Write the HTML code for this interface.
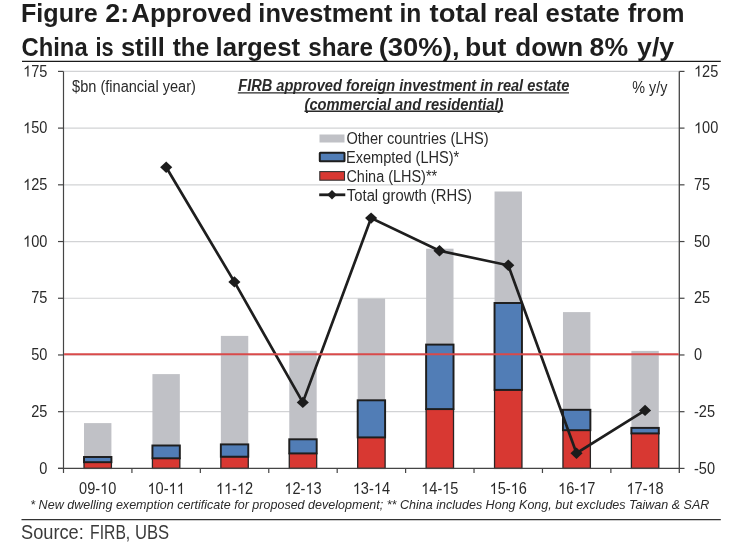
<!DOCTYPE html>
<html><head><meta charset="utf-8"><style>
html,body{margin:0;padding:0;background:#fff;width:742px;height:548px;overflow:hidden}
svg{display:block;will-change:transform}
text{font-family:"Liberation Sans",sans-serif}
</style></head><body>
<svg width="742" height="548" viewBox="0 0 742 548">
<line x1="63.5" y1="411.69" x2="679.3" y2="411.69" stroke="#D2D3D5" stroke-width="1.2"/>
<line x1="63.5" y1="354.97" x2="679.3" y2="354.97" stroke="#D2D3D5" stroke-width="1.2"/>
<line x1="63.5" y1="298.26" x2="679.3" y2="298.26" stroke="#D2D3D5" stroke-width="1.2"/>
<line x1="63.5" y1="241.54" x2="679.3" y2="241.54" stroke="#D2D3D5" stroke-width="1.2"/>
<line x1="63.5" y1="184.83" x2="679.3" y2="184.83" stroke="#D2D3D5" stroke-width="1.2"/>
<line x1="63.5" y1="128.11" x2="679.3" y2="128.11" stroke="#D2D3D5" stroke-width="1.2"/>
<line x1="63.5" y1="71.40" x2="679.3" y2="71.40" stroke="#D2D3D5" stroke-width="1.2"/>
<rect x="84.01" y="423.1" width="27.4" height="45.30" fill="#C0C1C6"/>
<rect x="152.43" y="374.1" width="27.4" height="94.30" fill="#C0C1C6"/>
<rect x="220.86" y="335.9" width="27.4" height="132.50" fill="#C0C1C6"/>
<rect x="289.28" y="350.8" width="27.4" height="117.60" fill="#C0C1C6"/>
<rect x="357.70" y="298.5" width="27.4" height="169.90" fill="#C0C1C6"/>
<rect x="426.12" y="248.7" width="27.4" height="219.70" fill="#C0C1C6"/>
<rect x="494.54" y="191.5" width="27.4" height="276.90" fill="#C0C1C6"/>
<rect x="562.97" y="312.1" width="27.4" height="156.30" fill="#C0C1C6"/>
<rect x="631.39" y="350.9" width="27.4" height="117.50" fill="#C0C1C6"/>
<rect x="84.01" y="462.20" width="27.4" height="6.20" fill="#D83832" stroke="#2A2424" stroke-width="1.3"/>
<rect x="84.01" y="457.00" width="27.4" height="5.20" fill="#517DB6" stroke="#1E1E1E" stroke-width="1.95"/>
<rect x="152.43" y="458.30" width="27.4" height="10.10" fill="#D83832" stroke="#2A2424" stroke-width="1.3"/>
<rect x="152.43" y="445.50" width="27.4" height="12.80" fill="#517DB6" stroke="#1E1E1E" stroke-width="1.95"/>
<rect x="220.86" y="456.70" width="27.4" height="11.70" fill="#D83832" stroke="#2A2424" stroke-width="1.3"/>
<rect x="220.86" y="444.40" width="27.4" height="12.30" fill="#517DB6" stroke="#1E1E1E" stroke-width="1.95"/>
<rect x="289.28" y="453.40" width="27.4" height="15.00" fill="#D83832" stroke="#2A2424" stroke-width="1.3"/>
<rect x="289.28" y="439.30" width="27.4" height="14.10" fill="#517DB6" stroke="#1E1E1E" stroke-width="1.95"/>
<rect x="357.70" y="437.40" width="27.4" height="31.00" fill="#D83832" stroke="#2A2424" stroke-width="1.3"/>
<rect x="357.70" y="400.30" width="27.4" height="37.10" fill="#517DB6" stroke="#1E1E1E" stroke-width="1.95"/>
<rect x="426.12" y="409.10" width="27.4" height="59.30" fill="#D83832" stroke="#2A2424" stroke-width="1.3"/>
<rect x="426.12" y="344.60" width="27.4" height="64.50" fill="#517DB6" stroke="#1E1E1E" stroke-width="1.95"/>
<rect x="494.54" y="389.90" width="27.4" height="78.50" fill="#D83832" stroke="#2A2424" stroke-width="1.3"/>
<rect x="494.54" y="303.00" width="27.4" height="86.90" fill="#517DB6" stroke="#1E1E1E" stroke-width="1.95"/>
<rect x="562.97" y="430.20" width="27.4" height="38.20" fill="#D83832" stroke="#2A2424" stroke-width="1.3"/>
<rect x="562.97" y="409.80" width="27.4" height="20.40" fill="#517DB6" stroke="#1E1E1E" stroke-width="1.95"/>
<rect x="631.39" y="433.40" width="27.4" height="35.00" fill="#D83832" stroke="#2A2424" stroke-width="1.3"/>
<rect x="631.39" y="427.90" width="27.4" height="5.50" fill="#517DB6" stroke="#1E1E1E" stroke-width="1.95"/>
<line x1="63.5" y1="71.4" x2="63.5" y2="473" stroke="#454545" stroke-width="1.2"/>
<line x1="679.3" y1="71.4" x2="679.3" y2="473" stroke="#454545" stroke-width="1.3"/>
<line x1="58" y1="468.4" x2="679.3" y2="468.4" stroke="#454545" stroke-width="1.2"/>
<line x1="58" y1="468.40" x2="63.5" y2="468.40" stroke="#454545" stroke-width="1.2"/>
<line x1="679.3" y1="468.40" x2="684.5" y2="468.40" stroke="#454545" stroke-width="1.2"/>
<line x1="58" y1="411.69" x2="63.5" y2="411.69" stroke="#454545" stroke-width="1.2"/>
<line x1="679.3" y1="411.69" x2="684.5" y2="411.69" stroke="#454545" stroke-width="1.2"/>
<line x1="58" y1="354.97" x2="63.5" y2="354.97" stroke="#454545" stroke-width="1.2"/>
<line x1="679.3" y1="354.97" x2="684.5" y2="354.97" stroke="#454545" stroke-width="1.2"/>
<line x1="58" y1="298.26" x2="63.5" y2="298.26" stroke="#454545" stroke-width="1.2"/>
<line x1="679.3" y1="298.26" x2="684.5" y2="298.26" stroke="#454545" stroke-width="1.2"/>
<line x1="58" y1="241.54" x2="63.5" y2="241.54" stroke="#454545" stroke-width="1.2"/>
<line x1="679.3" y1="241.54" x2="684.5" y2="241.54" stroke="#454545" stroke-width="1.2"/>
<line x1="58" y1="184.83" x2="63.5" y2="184.83" stroke="#454545" stroke-width="1.2"/>
<line x1="679.3" y1="184.83" x2="684.5" y2="184.83" stroke="#454545" stroke-width="1.2"/>
<line x1="58" y1="128.11" x2="63.5" y2="128.11" stroke="#454545" stroke-width="1.2"/>
<line x1="679.3" y1="128.11" x2="684.5" y2="128.11" stroke="#454545" stroke-width="1.2"/>
<line x1="58" y1="71.40" x2="63.5" y2="71.40" stroke="#454545" stroke-width="1.2"/>
<line x1="679.3" y1="71.40" x2="684.5" y2="71.40" stroke="#454545" stroke-width="1.2"/>
<line x1="131.92" y1="468.4" x2="131.92" y2="473" stroke="#454545" stroke-width="1.2"/>
<line x1="200.34" y1="468.4" x2="200.34" y2="473" stroke="#454545" stroke-width="1.2"/>
<line x1="268.77" y1="468.4" x2="268.77" y2="473" stroke="#454545" stroke-width="1.2"/>
<line x1="337.19" y1="468.4" x2="337.19" y2="473" stroke="#454545" stroke-width="1.2"/>
<line x1="405.61" y1="468.4" x2="405.61" y2="473" stroke="#454545" stroke-width="1.2"/>
<line x1="474.03" y1="468.4" x2="474.03" y2="473" stroke="#454545" stroke-width="1.2"/>
<line x1="542.46" y1="468.4" x2="542.46" y2="473" stroke="#454545" stroke-width="1.2"/>
<line x1="610.88" y1="468.4" x2="610.88" y2="473" stroke="#454545" stroke-width="1.2"/>
<path d="M166.2,167.2 L234.4,281.9 L302.8,402.4 L371.1,218.1 L439.5,250.8 L508.3,265.3 L576.5,453.2 L645.05,410.4" fill="none" stroke="#1E1E1E" stroke-width="2.7" stroke-linejoin="miter"/>
<path d="M160.14999999999998,167.2 L166.2,161.5 L172.25,167.2 L166.2,172.89999999999998 Z" fill="#1C1C1C"/>
<path d="M228.35,281.9 L234.4,276.2 L240.45000000000002,281.9 L234.4,287.59999999999997 Z" fill="#1C1C1C"/>
<path d="M296.75,402.4 L302.8,396.7 L308.85,402.4 L302.8,408.09999999999997 Z" fill="#1C1C1C"/>
<path d="M365.05,218.1 L371.1,212.4 L377.15000000000003,218.1 L371.1,223.79999999999998 Z" fill="#1C1C1C"/>
<path d="M433.45,250.8 L439.5,245.10000000000002 L445.55,250.8 L439.5,256.5 Z" fill="#1C1C1C"/>
<path d="M502.25,265.3 L508.3,259.6 L514.35,265.3 L508.3,271.0 Z" fill="#1C1C1C"/>
<path d="M570.45,453.2 L576.5,447.5 L582.55,453.2 L576.5,458.9 Z" fill="#1C1C1C"/>
<path d="M639.0,410.4 L645.05,404.7 L651.0999999999999,410.4 L645.05,416.09999999999997 Z" fill="#1C1C1C"/>
<line x1="64.1" y1="354.2" x2="678.6999999999999" y2="354.2" stroke="#D94A4A" stroke-width="2"/>
<g transform="translate(39.27,473.60) scale(0.91,1)"><text style="font-size:16px;font-weight:normal;font-style:normal;fill:#2A2A2A">0</text></g>
<g transform="translate(694.00,473.60) scale(0.91,1)"><text style="font-size:16px;font-weight:normal;font-style:normal;fill:#2A2A2A">-50</text></g>
<g transform="translate(31.22,416.89) scale(0.91,1)"><text style="font-size:16px;font-weight:normal;font-style:normal;fill:#2A2A2A">25</text></g>
<g transform="translate(694.00,416.89) scale(0.91,1)"><text style="font-size:16px;font-weight:normal;font-style:normal;fill:#2A2A2A">-25</text></g>
<g transform="translate(31.17,360.17) scale(0.91,1)"><text style="font-size:16px;font-weight:normal;font-style:normal;fill:#2A2A2A">50</text></g>
<g transform="translate(694.00,360.17) scale(0.91,1)"><text style="font-size:16px;font-weight:normal;font-style:normal;fill:#2A2A2A">0</text></g>
<g transform="translate(31.22,303.46) scale(0.91,1)"><text style="font-size:16px;font-weight:normal;font-style:normal;fill:#2A2A2A">75</text></g>
<g transform="translate(694.00,303.46) scale(0.91,1)"><text style="font-size:16px;font-weight:normal;font-style:normal;fill:#2A2A2A">25</text></g>
<g transform="translate(23.08,246.74) scale(0.91,1)"><text style="font-size:16px;font-weight:normal;font-style:normal;fill:#2A2A2A"> 00</text><path d="M763 0L583 0L583 1113Q518 1055 412 995T223 903L223 1073Q374 1143 487 1240T647 1430L763 1430Z" transform="translate(0.000,0) scale(0.007812,-0.007812)" fill="#2A2A2A"/></g>
<g transform="translate(694.00,246.74) scale(0.91,1)"><text style="font-size:16px;font-weight:normal;font-style:normal;fill:#2A2A2A">50</text></g>
<g transform="translate(23.12,190.03) scale(0.91,1)"><text style="font-size:16px;font-weight:normal;font-style:normal;fill:#2A2A2A"> 25</text><path d="M763 0L583 0L583 1113Q518 1055 412 995T223 903L223 1073Q374 1143 487 1240T647 1430L763 1430Z" transform="translate(0.000,0) scale(0.007812,-0.007812)" fill="#2A2A2A"/></g>
<g transform="translate(694.00,190.03) scale(0.91,1)"><text style="font-size:16px;font-weight:normal;font-style:normal;fill:#2A2A2A">75</text></g>
<g transform="translate(23.08,133.31) scale(0.91,1)"><text style="font-size:16px;font-weight:normal;font-style:normal;fill:#2A2A2A"> 50</text><path d="M763 0L583 0L583 1113Q518 1055 412 995T223 903L223 1073Q374 1143 487 1240T647 1430L763 1430Z" transform="translate(0.000,0) scale(0.007812,-0.007812)" fill="#2A2A2A"/></g>
<g transform="translate(694.00,133.31) scale(0.91,1)"><text style="font-size:16px;font-weight:normal;font-style:normal;fill:#2A2A2A"> 00</text><path d="M763 0L583 0L583 1113Q518 1055 412 995T223 903L223 1073Q374 1143 487 1240T647 1430L763 1430Z" transform="translate(0.000,0) scale(0.007812,-0.007812)" fill="#2A2A2A"/></g>
<g transform="translate(23.12,76.60) scale(0.91,1)"><text style="font-size:16px;font-weight:normal;font-style:normal;fill:#2A2A2A"> 75</text><path d="M763 0L583 0L583 1113Q518 1055 412 995T223 903L223 1073Q374 1143 487 1240T647 1430L763 1430Z" transform="translate(0.000,0) scale(0.007812,-0.007812)" fill="#2A2A2A"/></g>
<g transform="translate(694.00,76.60) scale(0.91,1)"><text style="font-size:16px;font-weight:normal;font-style:normal;fill:#2A2A2A"> 25</text><path d="M763 0L583 0L583 1113Q518 1055 412 995T223 903L223 1073Q374 1143 487 1240T647 1430L763 1430Z" transform="translate(0.000,0) scale(0.007812,-0.007812)" fill="#2A2A2A"/></g>
<g transform="translate(79.09,493.90) scale(0.91,1)"><text style="font-size:16px;font-weight:normal;font-style:normal;fill:#2A2A2A">09- 0</text><path d="M763 0L583 0L583 1113Q518 1055 412 995T223 903L223 1073Q374 1143 487 1240T647 1430L763 1430Z" transform="translate(23.125,0) scale(0.007812,-0.007812)" fill="#2A2A2A"/></g>
<g transform="translate(147.51,493.90) scale(0.91,1)"><text style="font-size:16px;font-weight:normal;font-style:normal;fill:#2A2A2A"> 0-  </text><path d="M763 0L583 0L583 1113Q518 1055 412 995T223 903L223 1073Q374 1143 487 1240T647 1430L763 1430Z" transform="translate(0.000,0) scale(0.007812,-0.007812)" fill="#2A2A2A"/><path d="M763 0L583 0L583 1113Q518 1055 412 995T223 903L223 1073Q374 1143 487 1240T647 1430L763 1430Z" transform="translate(23.125,0) scale(0.007812,-0.007812)" fill="#2A2A2A"/><path d="M763 0L583 0L583 1113Q518 1055 412 995T223 903L223 1073Q374 1143 487 1240T647 1430L763 1430Z" transform="translate(32.023,0) scale(0.007812,-0.007812)" fill="#2A2A2A"/></g>
<g transform="translate(215.94,493.90) scale(0.91,1)"><text style="font-size:16px;font-weight:normal;font-style:normal;fill:#2A2A2A">  - 2</text><path d="M763 0L583 0L583 1113Q518 1055 412 995T223 903L223 1073Q374 1143 487 1240T647 1430L763 1430Z" transform="translate(0.000,0) scale(0.007812,-0.007812)" fill="#2A2A2A"/><path d="M763 0L583 0L583 1113Q518 1055 412 995T223 903L223 1073Q374 1143 487 1240T647 1430L763 1430Z" transform="translate(8.898,0) scale(0.007812,-0.007812)" fill="#2A2A2A"/><path d="M763 0L583 0L583 1113Q518 1055 412 995T223 903L223 1073Q374 1143 487 1240T647 1430L763 1430Z" transform="translate(23.125,0) scale(0.007812,-0.007812)" fill="#2A2A2A"/></g>
<g transform="translate(284.36,493.90) scale(0.91,1)"><text style="font-size:16px;font-weight:normal;font-style:normal;fill:#2A2A2A"> 2- 3</text><path d="M763 0L583 0L583 1113Q518 1055 412 995T223 903L223 1073Q374 1143 487 1240T647 1430L763 1430Z" transform="translate(0.000,0) scale(0.007812,-0.007812)" fill="#2A2A2A"/><path d="M763 0L583 0L583 1113Q518 1055 412 995T223 903L223 1073Q374 1143 487 1240T647 1430L763 1430Z" transform="translate(23.125,0) scale(0.007812,-0.007812)" fill="#2A2A2A"/></g>
<g transform="translate(352.78,493.90) scale(0.91,1)"><text style="font-size:16px;font-weight:normal;font-style:normal;fill:#2A2A2A"> 3- 4</text><path d="M763 0L583 0L583 1113Q518 1055 412 995T223 903L223 1073Q374 1143 487 1240T647 1430L763 1430Z" transform="translate(0.000,0) scale(0.007812,-0.007812)" fill="#2A2A2A"/><path d="M763 0L583 0L583 1113Q518 1055 412 995T223 903L223 1073Q374 1143 487 1240T647 1430L763 1430Z" transform="translate(23.125,0) scale(0.007812,-0.007812)" fill="#2A2A2A"/></g>
<g transform="translate(421.20,493.90) scale(0.91,1)"><text style="font-size:16px;font-weight:normal;font-style:normal;fill:#2A2A2A"> 4- 5</text><path d="M763 0L583 0L583 1113Q518 1055 412 995T223 903L223 1073Q374 1143 487 1240T647 1430L763 1430Z" transform="translate(0.000,0) scale(0.007812,-0.007812)" fill="#2A2A2A"/><path d="M763 0L583 0L583 1113Q518 1055 412 995T223 903L223 1073Q374 1143 487 1240T647 1430L763 1430Z" transform="translate(23.125,0) scale(0.007812,-0.007812)" fill="#2A2A2A"/></g>
<g transform="translate(489.62,493.90) scale(0.91,1)"><text style="font-size:16px;font-weight:normal;font-style:normal;fill:#2A2A2A"> 5- 6</text><path d="M763 0L583 0L583 1113Q518 1055 412 995T223 903L223 1073Q374 1143 487 1240T647 1430L763 1430Z" transform="translate(0.000,0) scale(0.007812,-0.007812)" fill="#2A2A2A"/><path d="M763 0L583 0L583 1113Q518 1055 412 995T223 903L223 1073Q374 1143 487 1240T647 1430L763 1430Z" transform="translate(23.125,0) scale(0.007812,-0.007812)" fill="#2A2A2A"/></g>
<g transform="translate(558.05,493.90) scale(0.91,1)"><text style="font-size:16px;font-weight:normal;font-style:normal;fill:#2A2A2A"> 6- 7</text><path d="M763 0L583 0L583 1113Q518 1055 412 995T223 903L223 1073Q374 1143 487 1240T647 1430L763 1430Z" transform="translate(0.000,0) scale(0.007812,-0.007812)" fill="#2A2A2A"/><path d="M763 0L583 0L583 1113Q518 1055 412 995T223 903L223 1073Q374 1143 487 1240T647 1430L763 1430Z" transform="translate(23.125,0) scale(0.007812,-0.007812)" fill="#2A2A2A"/></g>
<g transform="translate(626.47,493.90) scale(0.91,1)"><text style="font-size:16px;font-weight:normal;font-style:normal;fill:#2A2A2A"> 7- 8</text><path d="M763 0L583 0L583 1113Q518 1055 412 995T223 903L223 1073Q374 1143 487 1240T647 1430L763 1430Z" transform="translate(0.000,0) scale(0.007812,-0.007812)" fill="#2A2A2A"/><path d="M763 0L583 0L583 1113Q518 1055 412 995T223 903L223 1073Q374 1143 487 1240T647 1430L763 1430Z" transform="translate(23.125,0) scale(0.007812,-0.007812)" fill="#2A2A2A"/></g>
<rect x="319.5" y="134.5" width="25" height="8" fill="#C0C1C6"/>
<rect x="319.8" y="152.7" width="24.7" height="8.6" fill="#517DB6" stroke="#1E1E1E" stroke-width="2" rx="0.6"/>
<rect x="319.8" y="171.6" width="24.7" height="8.6" fill="#D83832" stroke="#333" stroke-width="1.1"/>
<line x1="319.2" y1="194.8" x2="345.3" y2="194.8" stroke="#1E1E1E" stroke-width="2.8"/>
<path d="M327.2,194.8 L332.0,190.0 L336.8,194.8 L332.0,199.60000000000002 Z" fill="#1E1E1E"/>
<text transform="translate(346.42,143.8) scale(0.9027,1)" style="font-size:16.2px;font-weight:normal;font-style:normal;fill:#2A2A2A">Other countries (LHS)</text>
<text transform="translate(345.98,162.5) scale(0.8988,1)" style="font-size:16.2px;font-weight:normal;font-style:normal;fill:#2A2A2A">Exempted (LHS)*</text>
<text transform="translate(346.43,181.5) scale(0.8923,1)" style="font-size:16.2px;font-weight:normal;font-style:normal;fill:#2A2A2A">China (LHS)**</text>
<text transform="translate(346.87,200.8) scale(0.9151,1)" style="font-size:16.2px;font-weight:normal;font-style:normal;fill:#2A2A2A">Total growth (RHS)</text>
<text transform="translate(72.07,91.8) scale(0.9223,1)" style="font-size:15.8px;font-weight:normal;font-style:normal;fill:#2A2A2A">$bn (financial year)</text>
<text transform="translate(632.34,92.9) scale(0.9105,1)" style="font-size:15.8px;font-weight:normal;font-style:normal;fill:#2A2A2A">% y/y</text>
<text transform="translate(238.27,91.2) scale(0.9105,1)" style="font-size:16px;font-weight:bold;font-style:italic;fill:#2A2A2A">FIRB approved foreign investment in real estate</text>
<text transform="translate(304.54,109.6) scale(0.9176,1)" style="font-size:16px;font-weight:bold;font-style:italic;fill:#2A2A2A">(commercial and residential)</text>
<text transform="translate(30.27,508.8) scale(0.9797,1)" style="font-size:12.8px;font-weight:normal;font-style:italic;fill:#2A2A2A">* New dwelling exemption certificate for proposed development; ** China includes Hong Kong, but excludes Taiwan &amp; SAR</text>
<line x1="237.8" y1="92.9" x2="569" y2="92.9" stroke="#2A2A2A" stroke-width="1.4"/>
<line x1="304.5" y1="111.3" x2="503.2" y2="111.3" stroke="#2A2A2A" stroke-width="1.4"/>
<text transform="translate(20.90,21.8) scale(1.0027,1)" style="font-size:25.1px;font-weight:bold;font-style:normal;fill:#1E1E1E">Figure</text>
<text transform="translate(105.30,21.8) scale(1.0701,1)" style="font-size:25.1px;font-weight:bold;font-style:normal;fill:#1E1E1E">2:</text>
<text transform="translate(131.33,21.8) scale(1.0309,1)" style="font-size:25.1px;font-weight:bold;font-style:normal;fill:#1E1E1E">Approved</text>
<text transform="translate(258.33,21.8) scale(1.0123,1)" style="font-size:25.1px;font-weight:bold;font-style:normal;fill:#1E1E1E">investment</text>
<text transform="translate(399.38,21.8) scale(0.9818,1)" style="font-size:25.1px;font-weight:bold;font-style:normal;fill:#1E1E1E">in</text>
<text transform="translate(429.53,21.8) scale(1.0941,1)" style="font-size:25.1px;font-weight:bold;font-style:normal;fill:#1E1E1E">total</text>
<text transform="translate(493.79,21.8) scale(1.0072,1)" style="font-size:25.1px;font-weight:bold;font-style:normal;fill:#1E1E1E">real</text>
<text transform="translate(545.58,21.8) scale(1.0247,1)" style="font-size:25.1px;font-weight:bold;font-style:normal;fill:#1E1E1E">estate</text>
<text transform="translate(627.74,21.8) scale(1.0204,1)" style="font-size:25.1px;font-weight:bold;font-style:normal;fill:#1E1E1E">from</text>
<text transform="translate(21.45,56.0) scale(0.9493,1)" style="font-size:25.1px;font-weight:bold;font-style:normal;fill:#1E1E1E">China</text>
<text transform="translate(95.58,56.0) scale(0.8658,1)" style="font-size:25.1px;font-weight:bold;font-style:normal;fill:#1E1E1E">is</text>
<text transform="translate(120.88,56.0) scale(1.0173,1)" style="font-size:25.1px;font-weight:bold;font-style:normal;fill:#1E1E1E">still</text>
<text transform="translate(172.66,56.0) scale(0.9699,1)" style="font-size:25.1px;font-weight:bold;font-style:normal;fill:#1E1E1E">the</text>
<text transform="translate(215.50,56.0) scale(1.0280,1)" style="font-size:25.1px;font-weight:bold;font-style:normal;fill:#1E1E1E">largest</text>
<text transform="translate(308.23,56.0) scale(0.9670,1)" style="font-size:25.1px;font-weight:bold;font-style:normal;fill:#1E1E1E">share</text>
<text transform="translate(378.73,56.0) scale(1.0930,1)" style="font-size:25.1px;font-weight:bold;font-style:normal;fill:#1E1E1E">(30%),</text>
<text transform="translate(464.91,56.0) scale(1.0604,1)" style="font-size:25.1px;font-weight:bold;font-style:normal;fill:#1E1E1E">but</text>
<text transform="translate(515.26,56.0) scale(1.0365,1)" style="font-size:25.1px;font-weight:bold;font-style:normal;fill:#1E1E1E">down</text>
<text transform="translate(589.61,56.0) scale(1.0600,1)" style="font-size:25.1px;font-weight:bold;font-style:normal;fill:#1E1E1E">8%</text>
<text transform="translate(637.03,56.0) scale(1.0638,1)" style="font-size:25.1px;font-weight:bold;font-style:normal;fill:#1E1E1E">y/y</text>
<line x1="22" y1="61.3" x2="720.8" y2="61.3" stroke="#1A1A1A" stroke-width="1.2"/>
<line x1="21.5" y1="519.7" x2="720.8" y2="519.7" stroke="#333" stroke-width="1.3"/>
<text transform="translate(20.99,539.1) scale(0.9117,1)" style="font-size:20px;font-weight:normal;font-style:normal;fill:#3A3A3A">Source:</text>
<text transform="translate(90.12,539.1) scale(0.7854,1)" style="font-size:20px;font-weight:normal;font-style:normal;fill:#3A3A3A">FIRB,</text>
<text transform="translate(135.05,539.1) scale(0.8310,1)" style="font-size:20px;font-weight:normal;font-style:normal;fill:#3A3A3A">UBS</text>
</svg>
</body></html>
